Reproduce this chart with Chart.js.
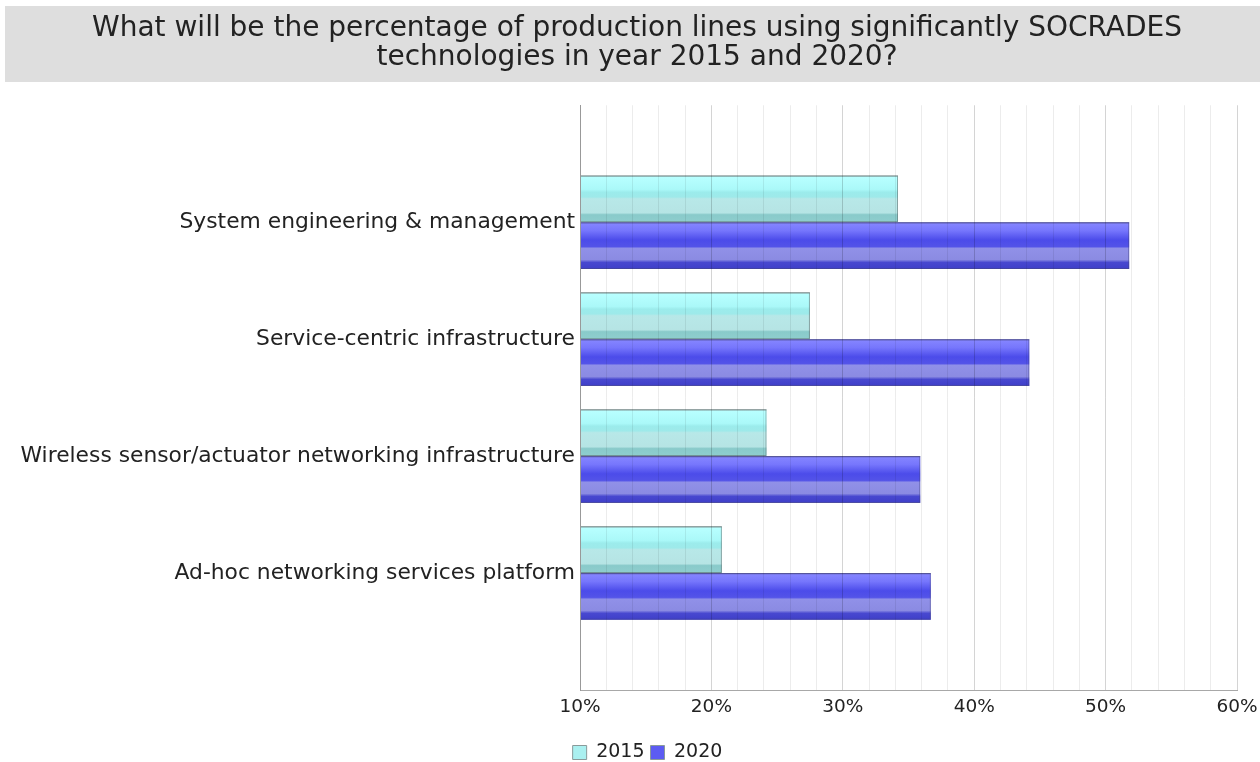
<!DOCTYPE html>
<html><head><meta charset="utf-8">
<script src="https://cdn.jsdelivr.net/npm/chart.js@4"></script>
<style>html,body{margin:0;padding:0;background:#fff;overflow:hidden}</style>
</head><body>
<canvas id="c" width="1260" height="762"></canvas>
<script>
const titleLines = ['What will be the percentage of production lines using significantly SOCRADES', 'technologies in year 2015 and 2020?'];
const categories = ['System engineering & management', 'Service-centric infrastructure', 'Wireless sensor/actuator networking infrastructure', 'Ad-hoc networking services platform'];
const seriesNames = ['2015', '2020'];
const values2015 = [34.2, 27.5, 24.2, 20.8];
const values2020 = [51.8, 44.2, 35.9, 36.7];
const tickLabels = [10, 20, 30, 40, 50, 60];

const legendColors = ['#aaf0f0', '#5c5cf2'];
const gradStops = [
  [[0,'#7f9494'],[0.04,'#b2ffff'],[0.3,'#a4f8f8'],[0.36,'#94eaea'],[0.46,'#96e8e8'],[0.5,'#b2e6e6'],[0.8,'#b0e2e2'],[0.84,'#80c6c6'],[1,'#86caca']],
  [[0,'#4a4a9a'],[0.04,'#7a7aff'],[0.18,'#6c6cfc'],[0.38,'#3e3ee8'],[0.52,'#4646e6'],[0.56,'#8888e6'],[0.8,'#8282e0'],[0.86,'#3a3acc'],[1,'#3030c4']]
];

const padLabels = [''].concat(categories, ['']);
const pad = arr => [null].concat(arr, [null]);

const titleBand = {
  id: 'titleBand',
  beforeDraw(chart) {
    const ctx = chart.ctx;
    ctx.save();
    ctx.fillStyle = '#dedede';
    ctx.fillRect(5, 6, chart.width - 5, 76);
    ctx.restore();
  }
};

const legendShift = {
  id: 'legendShift',
  afterLayout(chart) {
    if (chart.legend) chart.legend.left += 21;
  }
};

const barShade = {
  id: 'barShade',
  beforeDatasetsDraw(chart) {
    const ctx = chart.ctx;
    const area = chart.chartArea;
    chart.data.datasets.forEach((ds, di) => {
      const meta = chart.getDatasetMeta(di);
      meta.data.forEach((el, i) => {
        if (ds.data[i] == null) return;
        const p = el.getProps(['x', 'y', 'base', 'height'], true);
        const top = p.y - p.height / 2;
        const g = ctx.createLinearGradient(0, top, 0, top + p.height);
        gradStops[di].forEach(s => g.addColorStop(s[0], s[1]));
        const left = Math.max(area.left, Math.min(p.base, p.x));
        const right = Math.max(p.base, p.x);
        ctx.save();
        ctx.globalAlpha = 0.93;
        ctx.fillStyle = g;
        ctx.fillRect(left, top, right - left, p.height);
        ctx.restore();
      });
    });
  }
};

new Chart(document.getElementById('c'), {
  type: 'bar',
  data: {
    labels: padLabels,
    datasets: [
      { label: seriesNames[0], data: pad(values2015), backgroundColor: 'rgba(0,0,0,0)', borderColor: 'rgba(90,100,100,0.55)', borderWidth: 1, borderSkipped: 'start' },
      { label: seriesNames[1], data: pad(values2020), backgroundColor: 'rgba(0,0,0,0)', borderColor: 'rgba(70,70,130,0.55)', borderWidth: 1, borderSkipped: 'start' }
    ]
  },
  options: {
    responsive: false,
    animation: false,
    indexAxis: 'y',
    layout: { padding: { left: 14, right: 0, top: 0, bottom: 0 } },
    datasets: { bar: { categoryPercentage: 0.8, barPercentage: 1, base: tickLabels[0] } },
    scales: {
      x: {
        min: 10, max: 60,
        ticks: {
          stepSize: 2, autoSkip: false, maxRotation: 0, padding: 6, color: '#222',
          font: { family: 'DejaVu Sans', size: 18.5 },
          callback: v => tickLabels.includes(v) ? v + '%' : ''
        },
        grid: {
          z: 1, drawTicks: false, lineWidth: 1,
          color: c => (c.tick && tickLabels.includes(c.tick.value)) ? 'rgba(0,0,0,0.17)' : 'rgba(0,0,0,0.075)'
        },
        border: { display: true, color: '#a8a8a8', width: 1, z: 1 },
        afterFit: s => { s.height = 47; s.paddingRight = 23; }
      },
      y: {
        offset: false,
        grid: { display: false, drawTicks: false },
        border: { display: true, color: '#999', width: 1, z: 1 },
        ticks: { padding: 5, color: '#222', autoSkip: false, font: { family: 'DejaVu Sans', size: 21.8 } },
        afterFit: s => { s.width = 566; }
      }
    },
    plugins: {
      title: {
        display: true, text: titleLines, color: '#222',
        font: { family: 'DejaVu Sans', size: 28, weight: 'normal', lineHeight: 1.04 },
        padding: { top: 14, bottom: 33 }
      },
      legend: {
        position: 'bottom', maxHeight: 25,
        labels: {
          boxWidth: 14, boxHeight: 14, padding: 6, color: '#222',
          font: { family: 'DejaVu Sans', size: 19 },
          generateLabels: chart => Chart.defaults.plugins.legend.labels.generateLabels(chart).map((l, i) => Object.assign({}, l, { fillStyle: legendColors[i], strokeStyle: '#8a9a9a', lineWidth: 1 }))
        }
      },
      tooltip: { enabled: false }
    }
  },
  plugins: [titleBand, barShade, legendShift]
});
</script>
</body></html>
